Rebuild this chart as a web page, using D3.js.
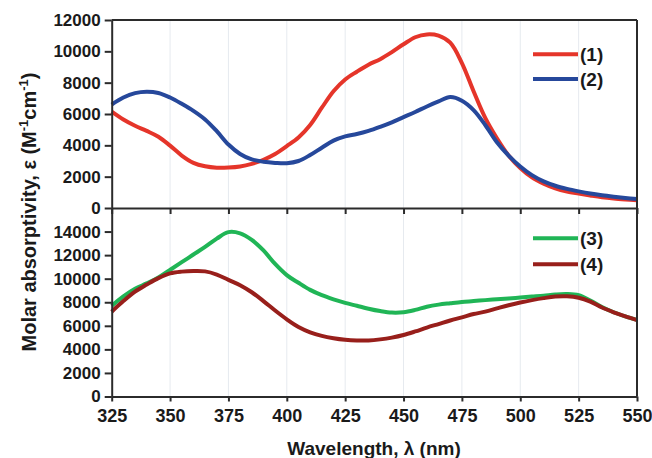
<!DOCTYPE html>
<html><head><meta charset="utf-8">
<script src="https://cdn.jsdelivr.net/npm/d3@7"></script>
<style>
html,body{margin:0;padding:0;background:#fff;}
svg text{font-family:"Liberation Sans",Arial,Helvetica,sans-serif;font-weight:bold;fill:#1a1a1a;}
</style></head>
<body><svg id="c" width="652" height="458"></svg>
<script>
const wavelengths = [325,330,335,340,345,350,355,360,365,370,375,380,385,390,395,400,405,410,415,420,425,430,435,440,445,450,455,460,465,470,475,480,485,490,495,500,505,510,515,520,525,530,535,540,545,550];
const series1 = [6150,5650,5250,4920,4550,3980,3350,2880,2660,2570,2580,2650,2820,3080,3450,3950,4500,5300,6400,7450,8200,8700,9150,9500,9950,10450,10900,11080,11000,10550,9250,7450,5750,4450,3350,2550,1950,1550,1250,1050,920,800,690,610,550,500];
const series2 = [6600,7050,7330,7420,7340,7050,6650,6200,5650,4900,4050,3450,3100,2950,2880,2860,3000,3380,3850,4300,4570,4720,4920,5180,5470,5800,6130,6480,6800,7080,6850,6250,5300,4200,3350,2650,2100,1700,1420,1220,1060,920,810,720,640,570];
const series3 = [7700,8500,9150,9600,10100,10750,11400,12050,12700,13400,13950,13850,13300,12400,11250,10300,9650,9050,8600,8250,7950,7700,7450,7250,7120,7150,7350,7620,7800,7920,8030,8100,8180,8250,8320,8400,8480,8560,8660,8700,8600,8150,7600,7150,6800,6500];
const series4 = [7200,8100,8900,9500,10050,10450,10600,10650,10620,10350,9900,9450,8850,8100,7300,6550,5900,5450,5150,4950,4820,4760,4760,4850,5000,5220,5520,5850,6150,6450,6720,7000,7200,7480,7750,7980,8180,8350,8480,8500,8380,8050,7550,7150,6800,6480];
const xTicks = [325,350,375,400,425,450,475,500,525,550];
const yTicksTop = [0,2000,4000,6000,8000,10000,12000];
const yTicksBottom = [0,2000,4000,6000,8000,10000,12000,14000];
const labels = ["(1)","(2)","(3)","(4)"];
const colors = ["#e5352a","#26489b","#20b556","#981f1b"];

const svg = d3.select("#c");
const L = 111.7, R = 637, T = 20, MID = 208, B = 396.5;
const x = d3.scaleLinear().domain([325,550]).range([L,R]);
const yTop = d3.scaleLinear().domain([0,12000]).range([MID,T]);
const yBot = d3.scaleLinear().domain([0,16000]).range([B,MID]);
const fmt = d3.format("d");

// grid
svg.append("g").selectAll("line").data(xTicks.slice(1,-1)).join("line")
  .attr("x1",d=>x(d)).attr("x2",d=>x(d)).attr("y1",T).attr("y2",B)
  .attr("stroke","#e6eaef").attr("stroke-width",1);

const line = (ys, vals) => d3.line().x((d,i)=>x(wavelengths[i])).y(d=>ys(d)).curve(d3.curveCatmullRom.alpha(0.5))(vals);
const topG = svg.append("g");
topG.append("path").attr("d",line(yTop,series1)).attr("fill","none").attr("stroke",colors[0]).attr("stroke-width",4);
topG.append("path").attr("d",line(yTop,series2)).attr("fill","none").attr("stroke",colors[1]).attr("stroke-width",4);
const botG = svg.append("g");
botG.append("path").attr("d",line(yBot,series3)).attr("fill","none").attr("stroke",colors[2]).attr("stroke-width",4);
botG.append("path").attr("d",line(yBot,series4)).attr("fill","none").attr("stroke",colors[3]).attr("stroke-width",4);

// axes
const ax = (g)=>{g.selectAll(".domain").attr("stroke","#2b2b2b").attr("stroke-width",2);
  g.selectAll(".tick line").attr("stroke","#2b2b2b").attr("stroke-width",2);
  g.selectAll(".tick text").attr("fill","#1a1a1a");};
svg.append("g").attr("transform",`translate(${L},0)`)
  .call(d3.axisLeft(yTop).tickValues(yTicksTop).tickFormat(fmt).tickSize(7).tickPadding(4).tickSizeOuter(0))
  .call(ax).selectAll("text").style("font-size","17px");
svg.append("g").attr("transform",`translate(${L},0)`)
  .call(d3.axisLeft(yBot).tickValues(yTicksBottom).tickFormat(fmt).tickSize(7).tickPadding(4).tickSizeOuter(0))
  .call(ax).selectAll("text").style("font-size","17px");
svg.append("g").attr("transform",`translate(0,${MID})`)
  .call(d3.axisBottom(x).tickValues(xTicks).tickSize(6).tickFormat("").tickSizeOuter(0))
  .call(ax);
svg.append("g").attr("transform",`translate(0,${B})`)
  .call(d3.axisBottom(x).tickValues(xTicks).tickFormat(fmt).tickSize(5).tickPadding(8).tickSizeOuter(0))
  .call(ax).selectAll("text").style("font-size","18px");
// frame top/right
svg.append("line").attr("x1",L).attr("x2",R).attr("y1",T).attr("y2",T).attr("stroke","#2b2b2b").attr("stroke-width",2);
svg.append("line").attr("x1",R).attr("x2",R).attr("y1",T).attr("y2",B).attr("stroke","#2b2b2b").attr("stroke-width",2);

// legends
const legY = [54.3,79,238.3,264.3];
labels.forEach((lab,i)=>{
  svg.append("line").attr("x1",533).attr("x2",578).attr("y1",legY[i]).attr("y2",legY[i])
    .attr("stroke",colors[i]).attr("stroke-width",4);
  svg.append("text").attr("x",580).attr("y",legY[i]).attr("dy","0.35em").style("font-size","19px").text(lab);
});

// axis titles
svg.append("text").attr("x",374).attr("y",455).attr("text-anchor","middle").style("font-size","19px")
  .text("Wavelength, \u03bb (nm)");
const yt = svg.append("text").attr("transform","translate(36,212) rotate(-90)").attr("text-anchor","middle").style("font-size","20px");
yt.append("tspan").text("Molar absorptivity, \u03b5  (M");
yt.append("tspan").attr("dy",-8).style("font-size","13px").text("-1");
yt.append("tspan").attr("dy",8).text("cm");
yt.append("tspan").attr("dy",-8).style("font-size","13px").text("-1");
yt.append("tspan").attr("dy",8).text(")");
</script></body></html>
